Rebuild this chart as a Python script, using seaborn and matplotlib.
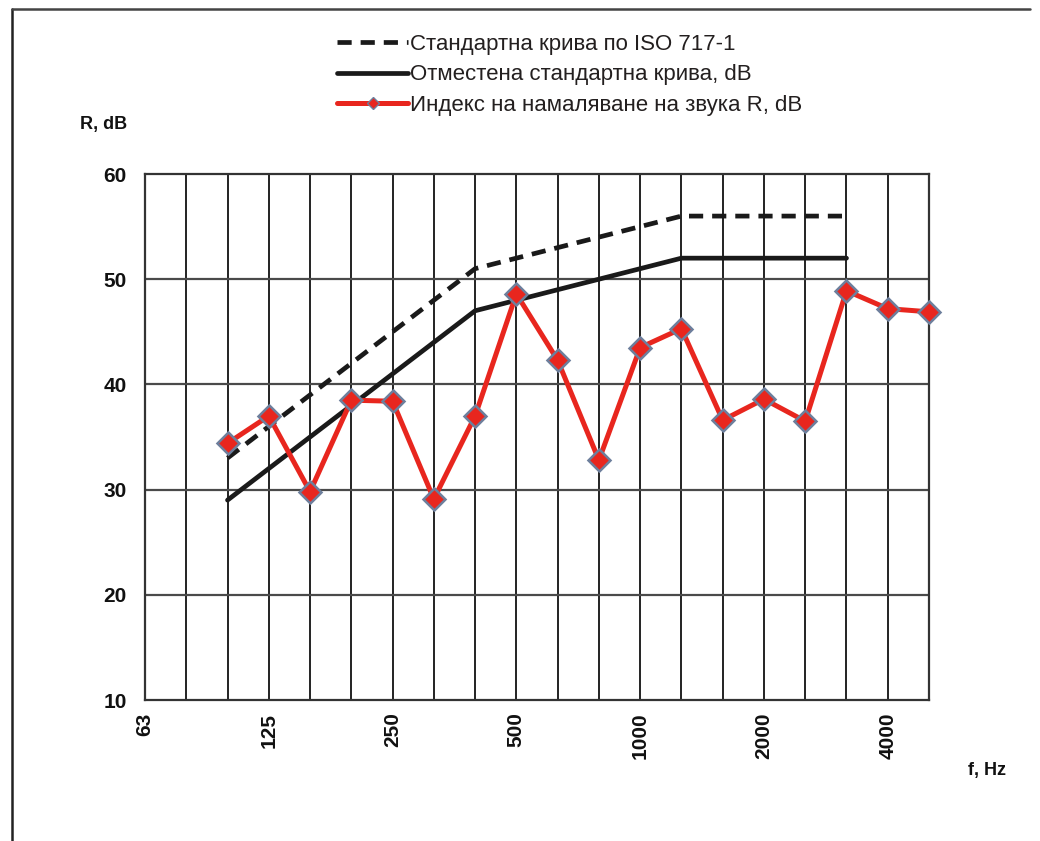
import numpy as np
import pandas as pd
import matplotlib
matplotlib.use("Agg")
import matplotlib.pyplot as plt
from matplotlib.lines import Line2D
import seaborn as sns

# ---- data ----
bands = ["63", "80", "100", "125", "160", "200", "250", "315", "400", "500",
         "630", "800", "1000", "1250", "1600", "2000", "2500", "3150", "4000", "5000"]
tick_labels = ["63", "125", "250", "500", "1000", "2000", "4000"]

meas_bands = ["100", "125", "160", "200", "250", "315", "400", "500", "630", "800",
              "1000", "1250", "1600", "2000", "2500", "3150", "4000", "5000"]
R_values = [34.4, 37.0, 29.8, 38.5, 38.4, 29.1, 37.0, 48.6, 42.3, 32.8,
            43.5, 45.3, 36.6, 38.6, 36.5, 48.9, 47.2, 46.9]

ref_bands = ["100", "125", "160", "200", "250", "315", "400", "500", "630", "800",
             "1000", "1250", "1600", "2000", "2500", "3150"]
ref_values = [33, 36, 39, 42, 45, 48, 51, 52, 53, 54, 55, 56, 56, 56, 56, 56]
shifted_values = [29, 32, 35, 38, 41, 44, 47, 48, 49, 50, 51, 52, 52, 52, 52, 52]

label_ref = "Стандартна крива по ISO 717-1"
label_shift = "Отместена стандартна крива, dB"
label_R = "Индекс на намаляване на звука R, dB"

# ---- build frames ----
pos = {b: i for i, b in enumerate(bands)}
df_ref = pd.DataFrame({"x": [pos[b] for b in ref_bands], "y": ref_values})
df_shift = pd.DataFrame({"x": [pos[b] for b in ref_bands], "y": shifted_values})
df_R = pd.DataFrame({"x": [pos[b] for b in meas_bands], "y": R_values})

sns.set_theme(style="white")
plt.rcParams["font.family"] = ["Liberation Sans", "DejaVu Sans"]

fig = plt.figure(figsize=(10.40, 8.41), dpi=100)
ax = fig.add_axes([145 / 1040, 1 - 700 / 841, (929 - 145) / 1040, (700 - 174) / 841])
ax.set_facecolor("white")

# grid
for i in range(len(bands)):
    ax.axvline(i, color="#222222", lw=1.4, zorder=1)
for yv in range(20, 60, 10):
    ax.axhline(yv, color="#4a4a4a", lw=1.6, zorder=1)

sns.lineplot(data=df_ref, x="x", y="y", ax=ax, color="#1a1a1a", lw=3.4,
             linestyle=(0, (3.0, 1.9)), label=label_ref, zorder=3)
sns.lineplot(data=df_shift, x="x", y="y", ax=ax, color="#1a1a1a", lw=3.4,
             label=label_shift, zorder=3)
sns.lineplot(data=df_R, x="x", y="y", ax=ax, color="#e8261e", lw=3.6,
             marker="D", markersize=11, markerfacecolor="#e8261e",
             markeredgecolor="#6d7f9c", markeredgewidth=1.8,
             label=label_R, zorder=4, clip_on=False)

ax.set_xlim(0, len(bands) - 1)
ax.set_ylim(10, 60)
ax.set_xlabel("")
ax.set_ylabel("")

ax.set_xticks(range(len(bands)))
ax.set_xticklabels([b if b in tick_labels else "" for b in bands],
                   rotation=90, fontsize=15, fontweight="bold", color="#111111")
ax.set_yticks(range(10, 61, 10))
ax.set_yticklabels([str(v) for v in range(10, 61, 10)], fontsize=15,
                   fontweight="bold", color="#111111")
ax.tick_params(axis="x", direction="out", length=8, width=1.4, color="#222222", pad=1)
ax.tick_params(axis="y", direction="out", length=3, width=1.2, color="#222222", pad=10)

for s in ax.spines.values():
    s.set_color("#333333")
    s.set_linewidth(1.6)

leg = ax.legend(loc="upper left", bbox_to_anchor=(337 / 1040, 1 - 34 / 841),
                bbox_transform=fig.transFigure, frameon=False,
                prop={"family": ["Liberation Sans", "DejaVu Sans"], "size": 16},
                handlelength=3.2, handletextpad=0.1,
                labelspacing=0.42, borderaxespad=0, borderpad=0)
for t in leg.get_texts():
    t.set_color("#231f1f")
for h in leg.legend_handles:
    if hasattr(h, "set_markersize"):
        h.set_markersize(6)
        h.set_markeredgewidth(1.0)

fig.text(80 / 1040, 1 - 125 / 841, "R, dB", fontsize=13, fontweight="bold",
         va="center", ha="left", color="#111111")
fig.text(968 / 1040, 1 - 770 / 841, "f, Hz", fontsize=13, fontweight="bold",
         va="center", ha="left", color="#111111")

# outer frame of the page
fig.add_artist(Line2D([12 / 1040, 12 / 1040], [0, 1 - 9 / 841], transform=fig.transFigure,
                      color="#222222", lw=1.8))
fig.add_artist(Line2D([12 / 1040, 1030 / 1040], [1 - 9 / 841, 1 - 9 / 841],
                      transform=fig.transFigure, color="#444444", lw=1.8))

fig.savefig("out.png", dpi=100, facecolor="white")
